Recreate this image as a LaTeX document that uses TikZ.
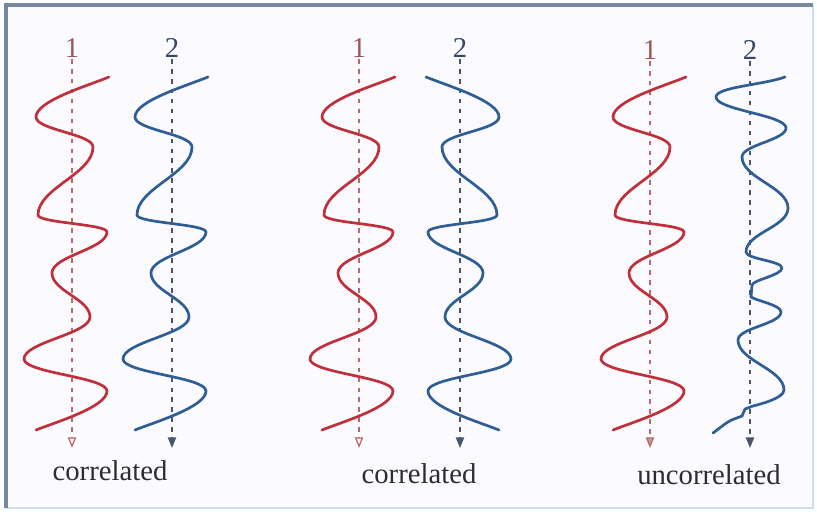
\documentclass[tikz,border=0pt]{standalone}
\usepackage{fontspec}
\setmainfont{Liberation Serif}
\usetikzlibrary{arrows.meta}
\definecolor{wred}{RGB}{192,48,58}
\definecolor{wblue}{RGB}{46,94,148}
\definecolor{axred}{RGB}{185,105,105}
\definecolor{axblue}{RGB}{75,85,105}
\definecolor{lblred}{RGB}{160,85,85}
\definecolor{lblblue}{RGB}{55,70,100}
\definecolor{txtc}{RGB}{45,45,45}
\definecolor{framedark}{RGB}{120,135,160}
\definecolor{framelight}{RGB}{200,225,240}
\newcommand\wavetemplate{(37,77) .. controls +(-22,9) and +(0,-16) .. (-36,117)
 .. controls +(0,13) and +(0,-13) .. (21,147)
 .. controls +(0,27) and +(0,-27) .. (-34,215)
 .. controls +(0,8) and +(0,-8) .. (35,232)
 .. controls +(0,17) and +(0,-17) .. (-20,273)
 .. controls +(0,18) and +(0,-18) .. (18,317)
 .. controls +(0,17) and +(0,-17) .. (-48,359)
 .. controls +(0,14) and +(0,-14) .. (35,391)
 .. controls +(0,16) and +(20,-8) .. (-36,430)}
\tikzset{
 wave/.style={line width=2.3pt, line cap=round, line join=round},
 redwave/.style={wave, draw=wred},
 bluewave/.style={wave, draw=wblue},
 axisline/.style={line width=1.1pt, dash pattern=on 4pt off 4.5pt},
 redaxis/.style={axisline, draw=axred, -{Triangle[open, length=9pt, width=7pt, line width=1.1pt]}},
 redaxisf/.style={axisline, draw=axred, -{Triangle[length=9pt, width=7pt, fill=axred!70]}},
 blueaxis/.style={axisline, draw=axblue, -{Triangle[length=9pt, width=7pt]}},
 lbl/.style={font=\fontsize{24.5}{28}\selectfont, inner sep=1pt},
 captxt/.style={font=\fontsize{24.5}{28}\selectfont, text=txtc, anchor=base, inner sep=0pt}
}
\begin{document}
\begin{tikzpicture}[x=0.03cm, y=-0.03cm]
\useasboundingbox (0,0) rectangle (817,516);
\fill[white] (0,0) rectangle (817,516);
\fill[blue!2!white] (6,5) rectangle (813,508);
\draw[framelight, line width=2.5pt] (6,508) -- (813,508) -- (813,5);
\draw[framedark, line width=3pt] (6,508) -- (6,5) -- (813,5);

% labels
\node[lbl, text=lblred] (a1) at (72,48) {1};
\node[lbl, text=lblblue] (b1) at (172,48) {2};
\node[lbl, text=lblred] (a2) at (359,48) {1};
\node[lbl, text=lblblue] (b2) at (460,48) {2};
\node[lbl, text=lblred] (a3) at (650,50) {1};
\node[lbl, text=lblblue] (b3) at (750,50) {2};

\coordinate (ea1) at (72,448);
\coordinate (eb1) at (172,448);
\coordinate (ea2) at (359,448);
\coordinate (eb2) at (460,448);
\coordinate (ea3) at (650,448);
\coordinate (eb3) at (750,448);

\draw[redaxis] (a1) -- (ea1);
\draw[blueaxis] (b1) -- (eb1);
\draw[redaxis] (a2) -- (ea2);
\draw[blueaxis] (b2) -- (eb2);
\draw[redaxisf] (a3) -- (ea3);
\draw[blueaxis] (b3) -- (eb3);

% panel 1
\begin{scope}[shift={(72,0)}]
 \draw[redwave] \wavetemplate;
\end{scope}
\begin{scope}[shift={(171,0)}]
 \draw[bluewave] \wavetemplate;
\end{scope}
% panel 2
\begin{scope}[shift={(358,0)}]
 \draw[redwave] \wavetemplate;
\end{scope}
\begin{scope}[shift={(463,0)}, xscale=-1]
 \draw[bluewave] \wavetemplate;
\end{scope}
% panel 3
\begin{scope}[shift={(649,0)}]
 \draw[redwave] \wavetemplate;
\end{scope}
\draw[bluewave] (785,77) .. controls +(-22,8) and +(0,-10) .. (716,97)
 .. controls +(0,13) and +(0,-13) .. (786,128)
 .. controls +(0,12) and +(0,-12) .. (742,157)
 .. controls +(0,21) and +(0,-21) .. (788,208)
 .. controls +(0,19) and +(0,-19) .. (746,252)
 .. controls +(0,7) and +(0,-7) .. (782,268)
 .. controls +(0,7) and +(1,-5) .. (752,285)
 -- (751,297)
 .. controls +(6,4) and +(0,-7) .. (781,312)
 .. controls +(0,12) and +(0,-12) .. (738,340)
 .. controls +(0,21) and +(0,-21) .. (784,390)
 .. controls +(0,8) and +(8,-2) .. (753,406)
 -- (745,409) -- (742,416) -- (734,419)
 .. controls +(-8,3) and +(6,-4) .. (713,433);

% captions
\node[captxt] (c1) at (110,480) {correlated};
\node[captxt] (c2) at (419,483) {correlated};
\node[captxt] (c3) at (709,484) {uncorrelated};
\end{tikzpicture}
\end{document}
